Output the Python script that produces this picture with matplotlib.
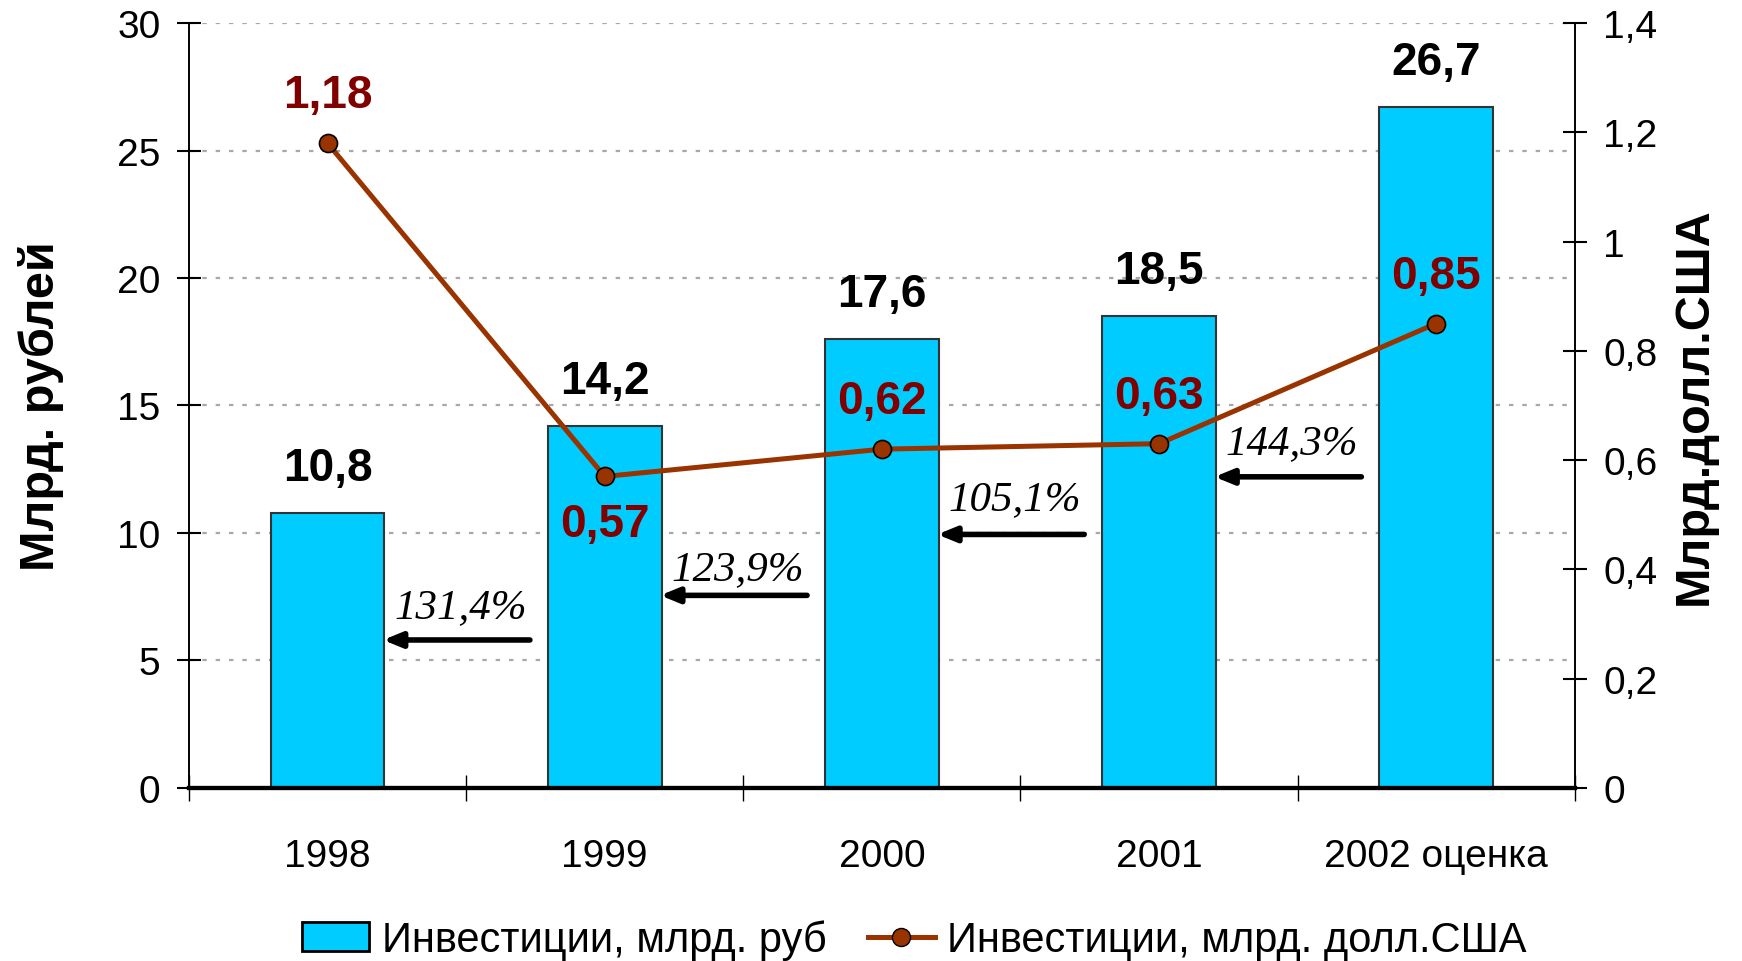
import matplotlib
matplotlib.use('Agg')
import matplotlib.pyplot as plt
from matplotlib.ticker import FuncFormatter, FixedLocator
from matplotlib.patches import Patch
from matplotlib.lines import Line2D

plt.rcParams['font.family'] = ['Liberation Sans', 'DejaVu Sans']

# data
years = ['1998', '1999', '2000', '2001', '2002 оценка']
rub = [10.8, 14.2, 17.6, 18.5, 26.7]          # млрд. руб
usd = [1.18, 0.57, 0.62, 0.63, 0.85]          # млрд. долл.США
growth = ['131,4%', '123,9%', '105,1%', '144,3%']
# which side the usd label goes (1 = above, -1 = below)
usd_side = [1, -1, 1, 1, 1]

# layout for growth arrows (y level on rub axis)
arrow_y = [5.8, 7.55, 9.94, 12.2]
text_y = [7.1, 8.6, 11.35, 13.55]

bar_color = '#00CCFF'
line_color = '#993300'
lab_color = '#800000'

def comma(v, pos=None):
    return f"{round(v, 2):g}".replace('.', ',')

fig = plt.figure(figsize=(17.42, 9.62), dpi=100)
ax = fig.add_axes([0.1085, 0.18, 0.7955, 0.795])
ax2 = ax.twinx()

x = list(range(len(years)))
ax.bar(x, rub, width=0.41, color=bar_color, edgecolor='#333333', linewidth=1.5, zorder=2)
ax.set_xlim(-0.5, 4.5)
ax.set_ylim(0, 30)
ax.set_yticks(range(0, 31, 5))
ax.yaxis.set_major_formatter(FuncFormatter(comma))
ax.set_axisbelow(True)
ax.yaxis.grid(True, color='#a8a8a8', linestyle=(0, (2, 4)), linewidth=1.6)

for xi, v in zip(x, rub):
    ax.annotate(comma(v), (xi, v), xytext=(0, 45), textcoords='offset pixels',
                ha='center', va='center', fontsize=33, fontweight='bold', color='black')

for i, (t, ay, ty) in enumerate(zip(growth, arrow_y, text_y)):
    ax.annotate('', xy=(i + 0.2, ay), xytext=(i + 0.73, ay),
                arrowprops=dict(arrowstyle='-|>,head_length=1.1,head_width=0.45',
                                color='black', lw=4, shrinkA=0, shrinkB=0), zorder=4)
    ax.text(i + 0.48, ty, t, ha='center', va='center', fontsize=31,
            fontstyle='italic', family='Liberation Serif', zorder=4)

ax2.plot(x, usd, color=line_color, lw=3.6, marker='o', markersize=13,
         markerfacecolor=line_color, markeredgecolor='black', markeredgewidth=1.2)
ax2.set_ylim(0, 1.4)
ax2.set_yticks([0, 0.2, 0.4, 0.6, 0.8, 1.0, 1.2, 1.4])
ax2.yaxis.set_major_formatter(FuncFormatter(comma))
for xi, v, s in zip(x, usd, usd_side):
    ax2.annotate(comma(v), (xi, v), xytext=(0, 48 * s), textcoords='offset pixels',
                 ha='center', va='center', fontsize=33, fontweight='bold', color=lab_color)

# x axis: labels at centers, ticks at category borders
ax.set_xticks(x)
ax.set_xticklabels(years)
ax.xaxis.set_minor_locator(FixedLocator([-0.5, 0.5, 1.5, 2.5, 3.5, 4.5]))
ax.tick_params(axis='x', which='major', length=0, pad=36, labelsize=28)
ax.tick_params(axis='x', which='minor', direction='inout', length=19, width=1)
ax.tick_params(axis='y', direction='inout', length=17, width=1.5, pad=12, labelsize=28)
ax2.tick_params(axis='y', direction='inout', length=17, width=1.5, pad=12, labelsize=28)

for a in (ax, ax2):
    a.spines['top'].set_visible(False)
    a.spines['left'].set_linewidth(1.2)
    a.spines['right'].set_linewidth(1.2)
    a.spines['bottom'].set_linewidth(3)

ax.set_ylabel('Млрд. рублей', fontsize=35, fontweight='bold', labelpad=38)
ax2.set_ylabel('Млрд.долл.США', fontsize=35, fontweight='bold', labelpad=10, rotation=90)

handles = [Patch(facecolor=bar_color, edgecolor='black', linewidth=2),
           Line2D([], [], color=line_color, lw=3.6, marker='o', markersize=13,
                  markerfacecolor=line_color, markeredgecolor='black')]
fig.legend(handles, ['Инвестиции, млрд. руб', 'Инвестиции, млрд. долл.США'],
           loc='center', bbox_to_anchor=(0.525, 0.022), ncol=2, frameon=False,
           fontsize=30, handlelength=1.6, handletextpad=0.3, columnspacing=1.0)

fig.savefig('out.png', dpi=100)
